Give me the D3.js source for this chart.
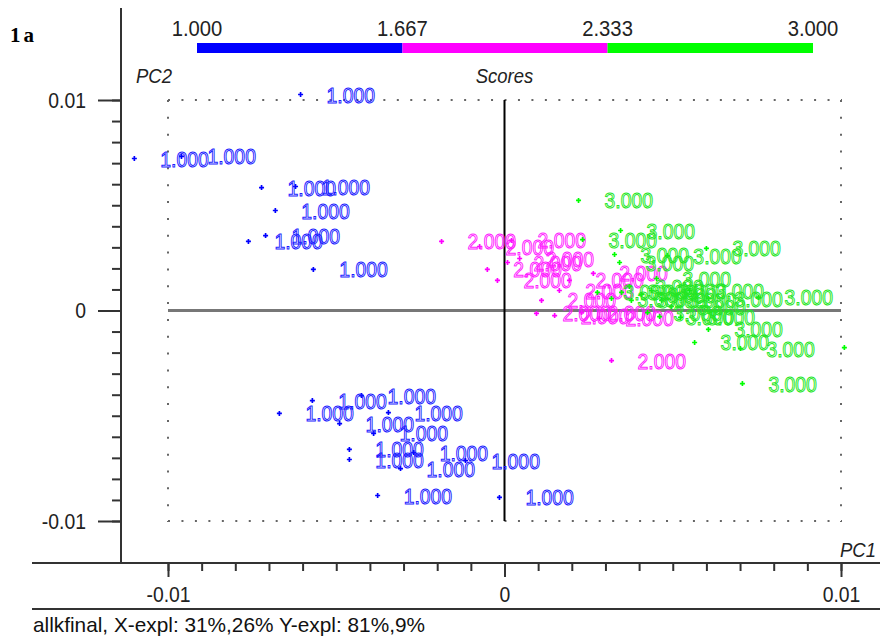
<!DOCTYPE html>
<html>
<head>
<meta charset="utf-8">
<script src="https://cdn.jsdelivr.net/npm/d3@7"></script>
<style>
  body { margin: 0; background: #fff; }
  svg { display: block; }
  text { font-family: "Liberation Sans", Arial, sans-serif; }
</style>
</head>
<body>
<script>
////////////////////
//     DATA      ///
////////////////////

// score value of each group and its colour
var groupValues = [1, 2, 3];
var groupColors = ["#0000ff", "#ff00ff", "#00ff00"];
var labelColors = ["#1a1aff", "#ff19ff", "#22e622"];

// legend bar boundaries and their labels
var legendStops = [1, 1.667, 2.333, 3];
var legendLabels = ["1.000", "1.667", "2.333", "3.000"];

// PC1 / PC2 scores, one pair of arrays per group
var g1PC1 = [-0.00606, -0.01100, -0.00960, -0.00722, -0.00621, -0.00681, -0.00761, -0.00710, -0.00568,
             -0.00669, -0.00571, -0.00425, -0.00345, -0.00490, -0.00389, -0.00461, -0.00461, -0.00270,
             -0.00309, -0.00116, -0.00377, -0.00015];
var g1PC2 = [0.01026, 0.00722, 0.00732, 0.00584, 0.00589, 0.00475, 0.00328, 0.00356, 0.00195,
             -0.00489, -0.00428, -0.00404, -0.00485, -0.00537, -0.00584, -0.00660, -0.00708, -0.00675,
             -0.00751, -0.00713, -0.00879, -0.00888];

var g2PC1 = [-0.00187, -0.00074, 0.00021, -0.00051, -0.00021, 0.00009, 0.00045, 0.00110, 0.00095,
             0.00149, 0.00193, 0.00264, 0.00229, 0.00282, 0.00318, 0.00163];
var g2PC2 = [0.00328, 0.00304, 0.00333, 0.00195, 0.00143, 0.00228, 0.00247, 0.00048, -0.00014,
             -0.00024, 0.00143, 0.00176, -0.00010, -0.00038, -0.00238, 0.00095];

var g3PC1 = [0.00220, 0.00232, 0.00345, 0.00327, 0.00342, 0.00484, 0.00600, 0.00452, 0.00606, 0.00755,
             0.00523, 0.00606, 0.00565, 0.00701, 0.00707, 0.01010, 0.00276, 0.00318, 0.00348, 0.00377,
             0.00407, 0.00437, 0.00467, 0.00496, 0.00425, 0.00461, 0.00371, 0.00550];
var g3PC2 = [0.00523, 0.00337, 0.00380, 0.00266, 0.00228, 0.00261, 0.00295, 0.00152, 0.00057, 0.00062,
             -0.00033, -0.00090, -0.00152, -0.00181, -0.00347, -0.00176, 0.00086, 0.00057, 0.00086, 0.00048,
             0.00076, 0.00095, 0.00048, 0.00019, -0.00010, -0.00029, 0.00114, 0.00095];

// axis ticks
var majorTicks = [-0.01, 0, 0.01];
var minorTicks = d3.range(-10, 11).map(function(i) { return i / 1000; });
var tickLabels = ["-0.01", "0", "0.01"];

var footer = "allkfinal, X-expl: 31%,26% Y-expl: 81%,9%";

////////////////////
//    OPTIONS    ///
////////////////////
var w = 880, h = 638;
var axisX = 121;       // vertical axis line
var axisY = 563;       // horizontal axis line
var labelOffset = 26;  // gap between a point and its label
var numFont = 22;
var squeezeBy = 0.88;  // the original font is a narrow one

var x = d3.scaleLinear().domain([-0.01, 0.01]).range([168, 841]);
var y = d3.scaleLinear().domain([-0.01, 0.01]).range([521, 100]);
var legendX = d3.scaleLinear().domain([1, 3]).range([197, 813]);

// squeeze texts sideways to mimic the narrow font
var squeeze = function(sel, k) {
  sel.each(function() {
    var len = this.getComputedTextLength();
    d3.select(this).attr("textLength", len * k).attr("lengthAdjust", "spacingAndGlyphs");
  });
};

var svg = d3.select("body").append("svg")
    .attr("width", w)
    .attr("height", h);

// plot number
svg.append("text")
    .text("1a")
    .attr("x", 10).attr("y", 42)
    .style("font-family", "'Liberation Serif', serif")
    .style("font-weight", "bold")
    .style("font-size", "21px")
    .style("letter-spacing", "3px");

////////////////////
//    LEGEND     ///
////////////////////
var legend = svg.append("g");
legend.selectAll("rect")
    .data(d3.pairs(legendStops))
    .enter().append("rect")
    .attr("x", function(d) { return legendX(d[0]); })
    .attr("width", function(d) { return legendX(d[1]) - legendX(d[0]); })
    .attr("y", 43).attr("height", 10)
    .attr("fill", function(d, i) { return groupColors[i]; });

legend.selectAll("text")
    .data(legendStops)
    .enter().append("text")
    .text(function(d, i) { return legendLabels[i]; })
    .attr("x", function(d) { return legendX(d); })
    .attr("y", 36)
    .attr("text-anchor", "middle")
    .style("font-size", numFont + "px")
    .attr("fill", "#222")
    .call(squeeze, 0.92);

var titles = svg.append("g")
    .style("font-style", "italic").style("font-size", "21px").attr("fill", "#222");
titles.append("text").text("PC2")
    .attr("x", 136).attr("y", 83);
titles.append("text").text("Scores")
    .attr("x", x(0)).attr("y", 83).attr("text-anchor", "middle");
titles.append("text").text("PC1")
    .attr("x", 876).attr("y", 557).attr("text-anchor", "end");
titles.selectAll("text").call(squeeze, squeezeBy);

////////////////////
//     AXES      ///
////////////////////
var axisCol = "#333";

// y axis
svg.append("line")
    .attr("x1", axisX).attr("x2", axisX)
    .attr("y1", 8).attr("y2", axisY)
    .attr("stroke", axisCol).attr("stroke-width", 2);

var yMinor = svg.append("g")
    .attr("transform", "translate(" + axisX + ",0)")
    .call(d3.axisLeft(y).tickValues(minorTicks).tickSize(9).tickFormat(""));
var yMajor = svg.append("g")
    .attr("transform", "translate(" + axisX + ",0)")
    .call(d3.axisLeft(y).tickValues(majorTicks).tickSize(23).tickPadding(12)
          .tickFormat(function(d, i) { return tickLabels[i]; }));

// x axis
svg.append("line")
    .attr("x1", 32).attr("x2", w)
    .attr("y1", axisY).attr("y2", axisY)
    .attr("stroke", axisCol).attr("stroke-width", 2);
svg.append("line")
    .attr("x1", 32).attr("x2", w)
    .attr("y1", 609).attr("y2", 609)
    .attr("stroke", axisCol).attr("stroke-width", 2);

var xMinor = svg.append("g")
    .attr("transform", "translate(0," + axisY + ")")
    .call(d3.axisBottom(x).tickValues(minorTicks).tickSize(8).tickFormat(""));
var xMajor = svg.append("g")
    .attr("transform", "translate(0," + axisY + ")")
    .call(d3.axisBottom(x).tickValues(majorTicks).tickSize(14).tickPadding(9)
          .tickFormat(function(d, i) { return tickLabels[i]; }));

[yMinor, yMajor, xMinor, xMajor].forEach(function(g) {
  g.select(".domain").remove();
  g.selectAll("line").attr("stroke", axisCol).attr("stroke-width", 2);
  g.selectAll("text")
    .style("font-size", numFont + "px")
    .attr("fill", "#222")
    .style("font-family", "'Liberation Sans', sans-serif")
    .call(squeeze, squeezeBy);
});

svg.append("text").text(footer)
    .attr("x", 33).attr("y", 632)
    .attr("textLength", 392).attr("lengthAdjust", "spacingAndGlyphs")
    .style("font-size", "21px").attr("fill", "#111");

////////////////////
//  FRAME, ZERO  ///
////////////////////
var frame = svg.append("g")
    .attr("stroke", "#666").attr("stroke-width", 2);
[y(0.01), y(-0.01)].forEach(function(yy) {
  frame.append("line")
      .attr("x1", x(-0.01)).attr("x2", x(0.01) + 1)
      .attr("y1", yy).attr("y2", yy)
      .attr("stroke-dasharray", "2,11.46");
});
[x(-0.01), x(0.01)].forEach(function(xx) {
  frame.append("line")
      .attr("x1", xx).attr("x2", xx)
      .attr("y1", y(0.01)).attr("y2", y(-0.01) + 1)
      .attr("stroke-dasharray", "2,14.84");
});

svg.append("line")
    .attr("x1", x(-0.01)).attr("x2", x(0.01))
    .attr("y1", y(0)).attr("y2", y(0))
    .attr("stroke", "#777").attr("stroke-width", 3);
svg.append("line")
    .attr("x1", x(0)).attr("x2", x(0))
    .attr("y1", y(0.01)).attr("y2", y(-0.01))
    .attr("stroke", "#000").attr("stroke-width", 2);

////////////////////
//    SCORES     ///
////////////////////
var groups = [[g1PC1, g1PC2], [g2PC1, g2PC2], [g3PC1, g3PC2]];
var cross = d3.symbol().type(d3.symbolCross).size(14);

groups.forEach(function(g, gi) {
  var pts = g[0].map(function(v, i) { return {pc1: v, pc2: g[1][i]}; });
  var layer = svg.append("g");

  layer.selectAll("path")
      .data(pts)
      .enter().append("path")
      .attr("d", cross)
      .attr("transform", function(d) { return "translate(" + x(d.pc1) + "," + y(d.pc2) + ")"; })
      .attr("fill", groupColors[gi]);

  // labels of points past the right edge of the frame run off the page, leave them out
  layer.selectAll("text")
      .data(pts.filter(function(d) { return d.pc1 <= 0.01; }))
      .enter().append("text")
      .text(d3.format(".3f")(groupValues[gi]))
      .attr("x", function(d) { return x(d.pc1) + labelOffset; })
      .attr("y", function(d) { return y(d.pc2) + 8; })
      .style("font-size", numFont + "px")
      .attr("fill", "none")
      .attr("stroke", labelColors[gi])
      .attr("stroke-width", 1)
      .call(squeeze, squeezeBy);
});
</script>
</body>
</html>
